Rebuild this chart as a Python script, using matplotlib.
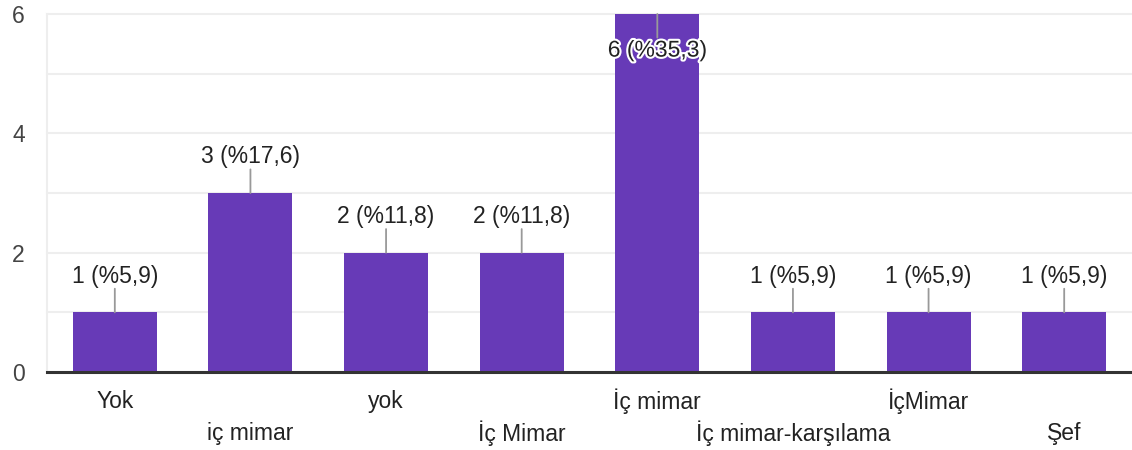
import matplotlib
matplotlib.use("Agg")
import matplotlib.pyplot as plt
import matplotlib.patheffects as pe

categories = ["Yok", "iç mimar", "yok", "İç Mimar", "İç mimar",
              "İç mimar-karşılama", "İçMimar", "Şef"]
values = [1, 3, 2, 2, 6, 1, 1, 1]
labels = ["1 (%5,9)", "3 (%17,6)", "2 (%11,8)", "2 (%11,8)", "6 (%35,3)",
          "1 (%5,9)", "1 (%5,9)", "1 (%5,9)"]
yticks = [0, 2, 4, 6]

plt.rcParams['font.family'] = ['Liberation Sans', 'DejaVu Sans']

FS = 16.5
fig = plt.figure(figsize=(11.32, 4.5), dpi=100)
ax = fig.add_axes([47/1132, 78/450, 1 - 47/1132, (372-14)/450])

x = list(range(len(values)))
ax.bar(x, values, width=0.62, color="#673ab7", zorder=3)
ax.set_xlim(-0.5, len(values) - 0.5)
ax.set_ylim(0, 6)

for yv in range(0, 7):
    ax.axhline(yv, color="#eeeeee", lw=1.5, zorder=1, clip_on=False)
ax.axhline(0, color="#333333", lw=2.2, zorder=4, clip_on=False)
ax.axvline(-0.5, color="#eeeeee", lw=1.5, zorder=1, clip_on=False)

for s in ax.spines.values():
    s.set_visible(False)

ax.set_yticks(yticks)
ax.set_yticklabels([str(t) for t in yticks], fontsize=FS, color="#444444")
ax.tick_params(axis='y', length=0, pad=16)
ax.set_xticks([])

ymax = 6
arrow = dict(arrowstyle="-", color="#999999", lw=1.3, shrinkA=0, shrinkB=0)
for i, (v, lab) in enumerate(zip(values, labels)):
    if v >= ymax:
        ax.annotate("", xy=(i, v), xytext=(0, -17), textcoords="offset points",
                    arrowprops=arrow, zorder=5, annotation_clip=False)
        ax.annotate(lab, xy=(i, v), xytext=(0, -26), textcoords="offset points",
                    ha="center", va="center", fontsize=FS, color="#222222",
                    zorder=6,
                    path_effects=[pe.withStroke(linewidth=3, foreground="white")])
    else:
        ax.annotate("", xy=(i, v), xytext=(0, 17), textcoords="offset points",
                    arrowprops=arrow, zorder=5, annotation_clip=False)
        ax.annotate(lab, xy=(i, v), xytext=(0, 26), textcoords="offset points",
                    ha="center", va="center", fontsize=FS, color="#222222",
                    zorder=6)

for i, c in enumerate(categories):
    yoff = -21 if i % 2 == 0 else -44
    ax.annotate(c, xy=(i, 0), xytext=(0, yoff), textcoords="offset points",
                ha="center", va="center", fontsize=FS, color="#222222",
                annotation_clip=False)

fig.savefig("out.png", dpi=100)
